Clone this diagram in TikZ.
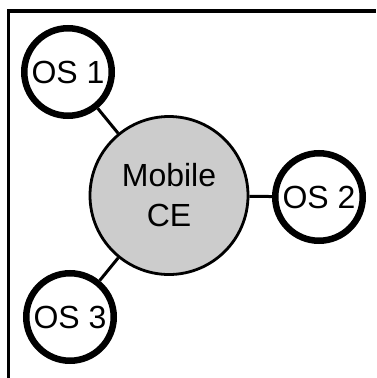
\documentclass[tikz,border=0pt]{standalone}
\usepackage{fontspec}
\setmainfont{Liberation Sans}
\definecolor{cefill}{HTML}{CCCCCC}
\begin{document}
\begin{tikzpicture}[x=1pt,y=-1pt,
  osnode/.style={circle,draw=black,line width=6.5pt,fill=white,minimum size=87.5pt,inner sep=0pt,
    font=\fontsize{32}{38}\selectfont},
  cenode/.style={circle,draw=black,line width=2.8pt,fill=cefill,minimum size=158pt,inner sep=0pt,
    align=center,font=\fontsize{32}{40}\selectfont},
  link/.style={draw=black,line width=3pt}]
\useasboundingbox (0,0) rectangle (376,378);
\draw[line width=3.5pt] (8.5,378) -- (8.5,11) -- (376,11);
\node[cenode] (ce) at (169,195.5) {Mobile\\CE};
\node[osnode] (os1) at (68,72) {OS 1};
\node[osnode] (os2) at (319,197) {OS 2};
\node[osnode] (os3) at (70,317) {OS 3};
\path[link] (ce) -- (os1);
\path[link] (ce) -- (os2);
\path[link] (ce) -- (os3);
\end{tikzpicture}
\end{document}
